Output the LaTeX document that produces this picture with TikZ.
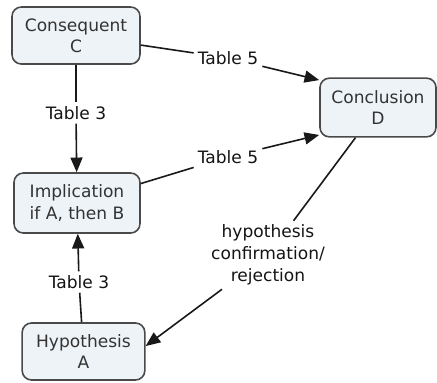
\documentclass[tikz,border=0pt]{standalone}
\usepackage{fontspec}
\setmainfont{DejaVu Sans}
\usetikzlibrary{arrows.meta}

\definecolor{boxfill}{HTML}{EEF3F7}
\definecolor{boxline}{HTML}{4A4A4A}
\definecolor{boxtext}{HTML}{333333}

\tikzset{every picture/.style={line width=1.2pt}}
\tikzset{
  concept/.style={draw=boxline, fill=boxfill, rounded corners=7pt, align=center,
    text=boxtext, inner sep=0pt, font=\fontsize{12.8}{15.8}\selectfont},
  linklabel/.style={align=center, inner sep=2.5pt, text=black!92,
    font=\fontsize{12.8}{16.4}\selectfont},
  link/.style={draw=black!90},
  linkarrow/.style={draw=black!90, -{Triangle[length=11pt,width=9pt]}},
}

\begin{document}
\begin{tikzpicture}[x=0.75pt,y=0.75pt,yscale=-1,xscale=1]

\useasboundingbox (0,0) rectangle (437,383);

% concepts
\node [concept, minimum width=96pt, minimum height=42.75pt] (C) at (76,35.5) {Consequent\\C};
\node [concept, minimum width=87pt, minimum height=44pt] (D) at (378,107.5) {Conclusion\\D};
\node [concept, minimum width=94.5pt, minimum height=45pt] (I) at (77,203) {Implication\\if A, then B};
\node [concept, minimum width=92pt, minimum height=42.75pt] (H) at (83.5,351.5) {Hypothesis\\A};

% link labels
\node [linklabel] (t5a) at (228,58) {Table 5};
\node [linklabel] (t5b) at (228,157) {Table 5};
\node [linklabel] (t3a) at (76,113) {Table 3};
\node [linklabel] (t3b) at (79,282) {Table 3};
\node [linklabel] (hc) at (268,255) {hypothesis\\confirmation/\\rejection};

% links
\draw [link] (C) -- (t5a);
\draw [linkarrow] (t5a) -- (D.155);
\draw [link] (I) -- (t5b);
\draw [linkarrow] (t5b) -- (D.205);
\draw [link] (C) -- (t3a);
\draw [linkarrow] (t3a) -- (I);
\draw [link] (H) -- (t3b);
\draw [linkarrow] (t3b) -- (I);
\draw [link] (D) -- (hc);
\draw [linkarrow] (hc) -- (H.5);

\end{tikzpicture}
\end{document}
